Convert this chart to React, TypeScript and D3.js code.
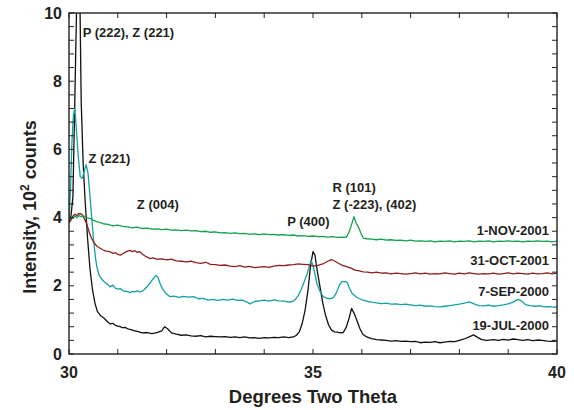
import React from "react";
import * as d3 from "d3";

// ---- data: [two-theta (deg), intensity (10^2 counts)] ----
const jul2000: [number, number][] = [
  [30.0,3.85],[30.04,4.05],[30.08,4.6],[30.12,7.5],[30.16,10.5],[30.19,12.5],[30.22,10.8],[30.25,7.4],[30.29,5.6],[30.33,4.5],
  [30.38,3.4],[30.43,2.5],[30.48,1.9],[30.53,1.5],[30.58,1.25],[30.65,1.12],[30.72,1.05],[30.8,0.93],[30.85,0.88],[30.9,0.9],
  [30.95,0.84],[31.0,0.82],[31.05,0.8],[31.1,0.77],[31.15,0.78],[31.2,0.74],[31.25,0.72],[31.3,0.7],[31.35,0.68],[31.4,0.66],
  [31.45,0.64],[31.5,0.62],[31.6,0.63],[31.7,0.6],[31.8,0.63],[31.9,0.68],[31.96,0.8],[32.02,0.74],[32.1,0.62],[32.2,0.58],
  [32.3,0.55],[32.4,0.56],[32.5,0.53],[32.6,0.52],[32.7,0.54],[32.8,0.5],[32.9,0.52],[33.0,0.51],[33.1,0.5],[33.2,0.51],
  [33.3,0.49],[33.4,0.5],[33.5,0.48],[33.6,0.5],[33.7,0.47],[33.8,0.48],[33.9,0.46],[34.0,0.48],[34.1,0.47],[34.2,0.49],
  [34.3,0.48],[34.4,0.5],[34.5,0.48],[34.6,0.5],[34.66,0.55],[34.72,0.65],[34.78,0.9],[34.84,1.3],[34.9,1.9],[34.95,2.6],
  [35.0,3.0],[35.04,2.9],[35.08,2.5],[35.14,2.0],[35.2,1.5],[35.26,1.12],[35.32,0.85],[35.38,0.7],[35.44,0.65],[35.5,0.64],
  [35.56,0.62],[35.62,0.63],[35.68,0.78],[35.74,1.05],[35.79,1.34],[35.84,1.2],[35.9,0.98],[35.96,0.75],[36.02,0.58],[36.1,0.5],
  [36.2,0.45],[36.3,0.42],[36.4,0.41],[36.5,0.4],[36.6,0.38],[36.7,0.39],[36.8,0.37],[36.9,0.38],[37.0,0.36],[37.1,0.37],
  [37.2,0.33],[37.3,0.35],[37.4,0.34],[37.5,0.36],[37.6,0.33],[37.7,0.35],[37.8,0.37],[37.9,0.36],[38.0,0.4],[38.1,0.44],
  [38.2,0.5],[38.29,0.56],[38.38,0.48],[38.46,0.42],[38.56,0.4],[38.7,0.42],[38.8,0.4],[38.9,0.43],[39.0,0.41],[39.1,0.44],
  [39.2,0.42],[39.3,0.4],[39.4,0.42],[39.5,0.39],[39.6,0.41],[39.7,0.4],[39.8,0.38],[39.9,0.37],[40.0,0.38],
];

const sep2000: [number, number][] = [
  [30.0,3.95],[30.03,4.8],[30.06,6.2],[30.09,7.0],[30.12,7.2],[30.15,6.6],[30.19,5.8],[30.23,5.2],[30.27,5.15],[30.31,5.35],
  [30.35,5.55],[30.39,5.3],[30.42,4.8],[30.46,4.1],[30.5,3.4],[30.54,2.85],[30.57,2.56],[30.62,2.3],[30.67,2.2],[30.72,2.12],
  [30.78,2.05],[30.84,1.97],[30.9,2.02],[30.95,1.93],[31.0,1.9],[31.05,1.92],[31.1,1.86],[31.15,1.84],[31.2,1.83],[31.25,1.8],
  [31.3,1.84],[31.35,1.82],[31.4,1.85],[31.45,1.82],[31.5,1.84],[31.55,1.9],[31.6,1.98],[31.66,2.08],[31.72,2.2],[31.78,2.3],
  [31.82,2.26],[31.87,2.05],[31.93,1.88],[32.0,1.76],[32.07,1.68],[32.15,1.7],[32.25,1.66],[32.35,1.69],[32.45,1.67],[32.55,1.68],
  [32.65,1.62],[32.75,1.63],[32.85,1.58],[32.95,1.6],[33.05,1.57],[33.15,1.6],[33.25,1.58],[33.35,1.61],[33.45,1.57],[33.55,1.58],
  [33.65,1.52],[33.71,1.47],[33.8,1.54],[33.9,1.56],[34.0,1.58],[34.1,1.55],[34.2,1.59],[34.3,1.56],[34.4,1.55],[34.5,1.52],
  [34.58,1.54],[34.64,1.6],[34.7,1.72],[34.76,1.9],[34.82,2.12],[34.88,2.35],[34.93,2.6],[34.96,2.74],[35.0,2.6],[35.04,2.35],
  [35.08,2.07],[35.14,1.85],[35.21,1.68],[35.28,1.64],[35.35,1.62],[35.42,1.65],[35.48,1.8],[35.54,2.02],[35.59,2.12],[35.65,2.13],
  [35.7,2.1],[35.75,1.92],[35.8,1.78],[35.88,1.68],[35.95,1.62],[36.03,1.58],[36.12,1.54],[36.2,1.52],[36.3,1.5],[36.4,1.48],
  [36.5,1.49],[36.6,1.46],[36.7,1.47],[36.8,1.45],[36.9,1.46],[37.0,1.44],[37.1,1.42],[37.2,1.43],[37.3,1.4],[37.4,1.41],
  [37.5,1.39],[37.6,1.38],[37.7,1.4],[37.8,1.42],[37.9,1.44],[38.0,1.46],[38.1,1.49],[38.2,1.53],[38.3,1.47],[38.4,1.42],
  [38.5,1.41],[38.6,1.43],[38.7,1.4],[38.8,1.42],[38.9,1.44],[39.0,1.47],[39.1,1.52],[39.2,1.6],[39.28,1.55],[39.35,1.45],
  [39.45,1.42],[39.55,1.4],[39.65,1.41],[39.75,1.38],[39.85,1.39],[39.95,1.37],[40.0,1.4],
];

const oct2001: [number, number][] = [
  [30.0,3.85],[30.04,3.92],[30.08,4.05],[30.12,4.1],[30.16,4.06],[30.2,4.12],[30.26,4.1],[30.31,3.98],[30.36,3.83],[30.42,3.55],
  [30.46,3.4],[30.5,3.29],[30.57,3.16],[30.64,3.1],[30.7,3.05],[30.76,3.02],[30.84,3.0],[30.9,2.95],[30.95,2.97],[31.0,2.92],
  [31.05,2.9],[31.1,2.94],[31.15,2.98],[31.2,3.02],[31.25,3.04],[31.3,3.0],[31.35,3.03],[31.4,2.98],[31.45,3.0],[31.5,2.93],
  [31.55,2.88],[31.6,2.84],[31.66,2.8],[31.72,2.82],[31.8,2.78],[31.9,2.79],[32.0,2.76],[32.1,2.78],[32.2,2.73],[32.3,2.72],
  [32.4,2.7],[32.5,2.72],[32.6,2.68],[32.7,2.66],[32.8,2.69],[32.9,2.63],[33.0,2.62],[33.1,2.6],[33.2,2.61],[33.3,2.58],
  [33.4,2.56],[33.5,2.59],[33.6,2.55],[33.7,2.57],[33.8,2.53],[33.9,2.55],[34.0,2.56],[34.1,2.54],[34.2,2.58],[34.3,2.6],
  [34.4,2.59],[34.5,2.61],[34.6,2.62],[34.7,2.64],[34.8,2.63],[34.9,2.62],[35.0,2.58],[35.1,2.6],[35.2,2.64],[35.3,2.72],
  [35.38,2.77],[35.45,2.72],[35.52,2.66],[35.6,2.6],[35.69,2.56],[35.78,2.52],[35.86,2.46],[35.95,2.44],[36.03,2.41],[36.12,2.4],
  [36.2,2.38],[36.3,2.4],[36.4,2.37],[36.5,2.38],[36.6,2.35],[36.7,2.37],[36.8,2.36],[36.9,2.34],[37.0,2.36],[37.1,2.38],
  [37.2,2.35],[37.3,2.37],[37.4,2.34],[37.5,2.36],[37.6,2.35],[37.7,2.38],[37.8,2.36],[37.9,2.34],[38.0,2.37],[38.1,2.35],
  [38.2,2.38],[38.3,2.36],[38.4,2.34],[38.5,2.36],[38.6,2.35],[38.7,2.37],[38.8,2.34],[38.9,2.36],[39.0,2.38],[39.1,2.35],
  [39.2,2.37],[39.3,2.36],[39.4,2.34],[39.5,2.37],[39.6,2.35],[39.7,2.36],[39.8,2.38],[39.9,2.35],[40.0,2.37],
];

const nov2001: [number, number][] = [
  [30.0,3.95],[30.04,4.02],[30.08,3.97],[30.12,4.05],[30.16,4.0],[30.2,4.06],[30.25,4.03],[30.3,4.05],[30.36,3.99],[30.43,3.98],
  [30.5,3.92],[30.57,3.88],[30.64,3.85],[30.7,3.82],[30.8,3.8],[30.9,3.76],[31.0,3.78],[31.1,3.74],[31.2,3.73],[31.3,3.7],
  [31.4,3.72],[31.5,3.68],[31.6,3.69],[31.7,3.66],[31.8,3.67],[31.9,3.65],[32.0,3.66],[32.1,3.63],[32.2,3.64],[32.3,3.62],
  [32.4,3.63],[32.5,3.61],[32.6,3.62],[32.7,3.59],[32.8,3.6],[32.9,3.57],[33.0,3.58],[33.1,3.55],[33.2,3.56],[33.3,3.54],
  [33.4,3.55],[33.5,3.53],[33.6,3.54],[33.7,3.51],[33.8,3.52],[33.9,3.5],[34.0,3.52],[34.1,3.5],[34.2,3.51],[34.3,3.49],
  [34.4,3.5],[34.5,3.48],[34.6,3.49],[34.7,3.46],[34.8,3.47],[34.9,3.45],[35.0,3.46],[35.1,3.44],[35.2,3.45],[35.3,3.43],
  [35.4,3.44],[35.5,3.42],[35.6,3.43],[35.68,3.42],[35.73,3.55],[35.78,3.75],[35.84,4.03],[35.88,3.85],[35.93,3.73],[35.98,3.55],
  [36.03,3.4],[36.1,3.38],[36.2,3.37],[36.3,3.35],[36.4,3.37],[36.5,3.34],[36.6,3.35],[36.7,3.33],[36.8,3.34],[36.9,3.32],
  [37.0,3.34],[37.1,3.31],[37.2,3.32],[37.3,3.3],[37.4,3.32],[37.5,3.29],[37.6,3.31],[37.7,3.3],[37.8,3.32],[37.9,3.29],
  [38.0,3.31],[38.1,3.3],[38.2,3.32],[38.3,3.29],[38.4,3.31],[38.5,3.3],[38.6,3.32],[38.7,3.29],[38.8,3.31],[38.9,3.3],
  [39.0,3.32],[39.1,3.3],[39.2,3.31],[39.3,3.29],[39.4,3.31],[39.5,3.3],[39.6,3.32],[39.7,3.3],[39.8,3.31],[39.9,3.29],[40.0,3.31],
];

const seriesNames = ["19-JUL-2000", "7-SEP-2000", "31-OCT-2001", "1-NOV-2001"];
const seriesColors = ["#111111", "#15a0a3", "#8e1e1e", "#14a04f"];
const seriesData = [jul2000, sep2000, oct2001, nov2001];
const seriesLabelY = [0.7, 1.7, 2.6, 3.5]; // label baseline positions in data units

const xTickLabels = [30, 35, 40];
const yTickLabels = [0, 2, 4, 6, 8, 10];

const peakLabels: { text: string; x: number; y: number }[] = [
  { text: "P (222), Z (221)", x: 30.28, y: 9.3 },
  { text: "Z (221)", x: 30.4, y: 5.6 },
  { text: "Z (004)", x: 31.39, y: 4.25 },
  { text: "P (400)", x: 34.47, y: 3.76 },
  { text: "R (101)", x: 35.4, y: 4.76 },
  { text: "Z (-223), (402)", x: 35.4, y: 4.26 },
];

const W = 574, H = 410;
const M = { left: 69, right: 557, top: 13, bottom: 354 };
const FONT = "'Liberation Sans', Arial, Helvetica, sans-serif";
const TXT = "#231f20";

export default function App() {
  const x = d3.scaleLinear().domain([30, 40]).range([M.left, M.right]);
  const y = d3.scaleLinear().domain([0, 10]).range([M.bottom, M.top]);
  const line = d3.line<[number, number]>().x(d => x(d[0])).y(d => y(d[1]));
  const xMinor = d3.range(30, 40.001, 1);
  const yMinor = d3.range(0, 10.001, 0.4);
  const tl = 5;

  return (
    <svg width={W} height={H} style={{ position: "absolute", left: 0, top: 0, background: "#fff" }} fontFamily={FONT}>
      <defs>
        <clipPath id="plot"><rect x={M.left} y={M.top} width={M.right - M.left} height={M.bottom - M.top} /></clipPath>
      </defs>
      <g clipPath="url(#plot)" fill="none" strokeWidth={1.3} strokeLinejoin="round">
        {seriesData.map((d, i) => (
          <path key={i} d={line(d) || ""} stroke={seriesColors[i]} />
        ))}
      </g>
      {/* frame */}
      <rect x={M.left} y={M.top} width={M.right - M.left} height={M.bottom - M.top} fill="none" stroke="#222" strokeWidth={1.4} />
      {/* ticks */}
      <g stroke="#222" strokeWidth={1}>
        {xMinor.map(v => (
          <g key={"x" + v}>
            <line x1={x(v)} x2={x(v)} y1={M.bottom} y2={M.bottom - tl} />
            <line x1={x(v)} x2={x(v)} y1={M.top} y2={M.top + tl} />
          </g>
        ))}
        {yMinor.map(v => (
          <g key={"y" + v}>
            <line x1={M.left} x2={M.left + tl} y1={y(v)} y2={y(v)} />
            <line x1={M.right} x2={M.right - tl} y1={y(v)} y2={y(v)} />
          </g>
        ))}
      </g>
      {/* tick labels */}
      <g fill={TXT} fontWeight="bold" fontSize={16}>
        {xTickLabels.map(v => (
          <text key={"xl" + v} x={x(v)} y={378} textAnchor="middle">{v}</text>
        ))}
        {yTickLabels.map(v => (
          <text key={"yl" + v} x={62} y={y(v)} dy="0.35em" textAnchor="end">{v}</text>
        ))}
      </g>
      {/* axis titles */}
      <text x={(M.left + M.right) / 2} y={403} textAnchor="middle" fontSize={18.5} fontWeight="bold" fill={TXT}>Degrees Two Theta</text>
      <text transform={`translate(36,207) rotate(-90)`} textAnchor="middle" fontSize={18} fontWeight="bold" fill={TXT}>
        Intensity, 10<tspan fontSize={12} dy={-7}>2</tspan><tspan dy={7}> counts</tspan>
      </text>
      {/* peak labels */}
      <g fill={TXT} fontWeight="bold" fontSize={13}>
        {peakLabels.map((p, i) => (
          <text key={"p" + i} x={x(p.x)} y={y(p.y)}>{p.text}</text>
        ))}
        {seriesNames.map((n, i) => (
          <text key={"s" + i} x={549} y={y(seriesLabelY[i])} textAnchor="end">{n}</text>
        ))}
      </g>
    </svg>
  );
}
